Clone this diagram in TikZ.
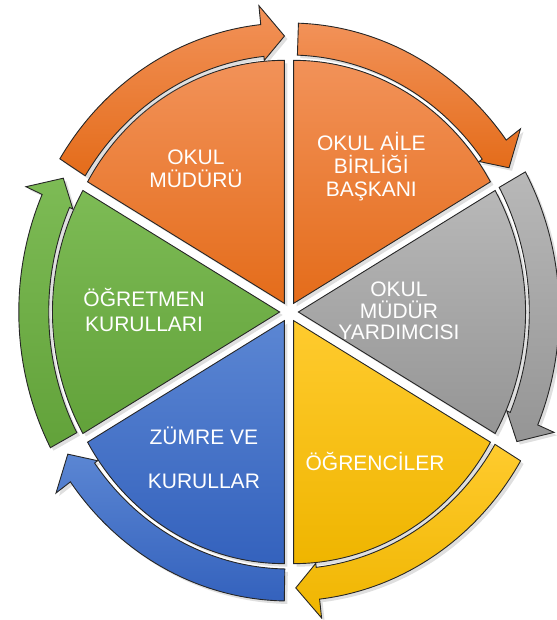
\documentclass[tikz,border=0pt]{standalone}
\usepackage{fontspec}
\setmainfont{Liberation Sans}
\usetikzlibrary{shadows}
\definecolor{orgA}{HTML}{F29259}
\definecolor{orgB}{HTML}{E46C1A}
\definecolor{gryA}{HTML}{B8B8B8}
\definecolor{gryB}{HTML}{959595}
\definecolor{ylwA}{HTML}{FFCB2E}
\definecolor{ylwB}{HTML}{EFB500}
\definecolor{bluA}{HTML}{5B86D3}
\definecolor{bluB}{HTML}{3462BD}
\definecolor{grnA}{HTML}{7DBB55}
\definecolor{grnB}{HTML}{62A23A}
\tikzset{
  wedge/.style={draw=black!85, line width=0.9pt, drop shadow={opacity=0.25, shadow xshift=3pt, shadow yshift=-3pt}},
  ring/.style={draw=black!85, line width=0.9pt, drop shadow={opacity=0.25, shadow xshift=3pt, shadow yshift=-3pt}},
  lbl/.style={text=white, align=center, font=\fontsize{21}{23}\selectfont},
}
\begin{document}
\begin{tikzpicture}[x=0.935pt, y=1pt]
	\useasboundingbox (-309.1, -308) rectangle (285.6, 312);
	 \draw[wedge, top color=orgA, bottom color=orgB, shift={(120:10)}] (0,0) -- (90:243) arc[start angle=90, end angle=150, radius=243] -- cycle;
	 \draw[wedge, top color=orgA, bottom color=orgB, shift={(60:10)}] (0,0) -- (30:243) arc[start angle=30, end angle=90, radius=243] -- cycle;
	 \draw[wedge, top color=gryA, bottom color=gryB, shift={(0:10)}] (0,0) -- (-30:243) arc[start angle=-30, end angle=30, radius=243] -- cycle;
	 \draw[wedge, top color=ylwA, bottom color=ylwB, shift={(-60:10)}] (0,0) -- (-90:243) arc[start angle=-90, end angle=-30, radius=243] -- cycle;
	 \draw[wedge, top color=bluA, bottom color=bluB, shift={(-120:10)}] (0,0) -- (-150:243) arc[start angle=-150, end angle=-90, radius=243] -- cycle;
	 \draw[wedge, top color=grnA, bottom color=grnB, shift={(180:10)}] (0,0) -- (150:243) arc[start angle=150, end angle=210, radius=243] -- cycle;
	 \draw[ring, top color=orgA, bottom color=orgB] (148:289) arc[start angle=148, end angle=96, radius=289] -- (96:308) -- (91:276) -- (96:253) -- (96:257) arc[start angle=96, end angle=148, radius=257] -- cycle;
	 \draw[ring, top color=orgA, bottom color=orgB] (88:289) arc[start angle=88, end angle=36.5, radius=289] -- (36.5:308) -- (31.5:276) -- (36.5:253) -- (36.5:257) arc[start angle=36.5, end angle=88, radius=257] -- cycle;
	 \draw[ring, top color=gryA, bottom color=gryB] (29:289) arc[start angle=29, end angle=-23, radius=289] -- (-23:308) -- (-28:276) -- (-23:253) -- (-23:257) arc[start angle=-23, end angle=29, radius=257] -- cycle;
	 \draw[ring, top color=ylwA, bottom color=ylwB] (-31:289) arc[start angle=-31, end angle=-83.5, radius=289] -- (-83.5:308) -- (-88.5:276) -- (-83.5:253) -- (-83.5:257) arc[start angle=-83.5, end angle=-31, radius=257] -- cycle;
	 \draw[ring, top color=bluA, bottom color=bluB] (-91:289) arc[start angle=-91, end angle=-144, radius=289] -- (-144:308) -- (-149:276) -- (-144:253) -- (-144:257) arc[start angle=-144, end angle=-91, radius=257] -- cycle;
	 \draw[ring, top color=grnA, bottom color=grnB] (208:289) arc[start angle=208, end angle=156, radius=289] -- (156:308) -- (151:276) -- (156:253) -- (156:257) arc[start angle=156, end angle=208, radius=257] -- cycle;
	\node[lbl] (mudur) at (-99.5, 143) {OKUL\\MÜDÜRÜ};
	\node[lbl] (aile) at (88, 145) {OKUL AİLE\\BİRLİĞİ\\BAŞKANI};
	\node[lbl] (yardimci) at (117.6, 1) {OKUL\\[-1.5pt]MÜDÜR\\[-1.5pt]YARDIMCISI};
	\node[lbl] (ogrenci) at (92, -149) {ÖĞRENCİLER};
	\node[lbl] (zumre) at (-91, -145.5) {ZÜMRE VE\\[21pt]KURULLAR};
	\node[lbl] (ogretmen) at (-155, 2) {ÖĞRETMEN\\[2pt]KURULLARI};
\end{tikzpicture}
\end{document}
